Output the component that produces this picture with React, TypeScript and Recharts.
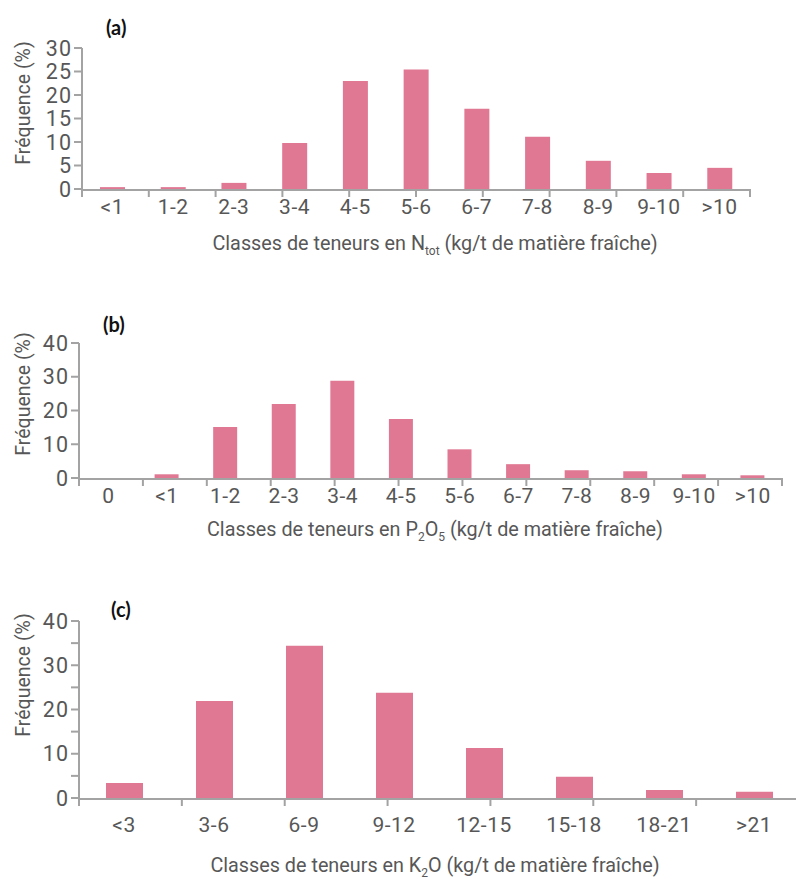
import React from 'react';
import { BarChart, Bar, XAxis, YAxis } from 'recharts';

const nClasses = ['<1', '1-2', '2-3', '3-4', '4-5', '5-6', '6-7', '7-8', '8-9', '9-10', '>10'];
const nValues = [0.4, 0.4, 1.3, 9.8, 23.0, 25.4, 17.1, 11.1, 6.0, 3.4, 4.5];
const nTicks = [0, 5, 10, 15, 20, 25, 30];
const nLabelled = [0, 5, 10, 15, 20, 25, 30];

const pClasses = ['0', '<1', '1-2', '2-3', '3-4', '4-5', '5-6', '6-7', '7-8', '8-9', '9-10', '>10'];
const pValues = [0, 1.1, 15.1, 21.9, 28.8, 17.5, 8.5, 4.1, 2.3, 2.0, 1.1, 0.8];
const pTicks = [0, 10, 20, 30, 40];
const pLabelled = [0, 10, 20, 30, 40];

const kClasses = ['<3', '3-6', '6-9', '9-12', '12-15', '15-18', '18-21', '>21'];
const kValues = [3.4, 21.9, 34.4, 23.8, 11.3, 4.8, 1.8, 1.4];
const kTicks = [0, 5, 10, 15, 20, 25, 30, 35, 40];
const kLabelled = [0, 10, 20, 30, 40];

const yTitle = 'Fréquence (%)';
const nTitle = [{ t: 'Classes de teneurs en N' }, { t: 'tot', sub: true }, { t: ' (kg/t de matière fraîche)' }];
const pTitle = [{ t: 'Classes de teneurs en P' }, { t: '2', sub: true }, { t: 'O' }, { t: '5', sub: true }, { t: ' (kg/t de matière fraîche)' }];
const kTitle = [{ t: 'Classes de teneurs en K' }, { t: '2', sub: true }, { t: 'O (kg/t de matière fraîche)' }];

const FONT = 'Roboto, "Noto Sans", sans-serif';
const TEXT = '#575757';
const AXIS = '#a3a3a3';
const BAR = '#e07893';

type Seg = { t: string; sub?: boolean };

function XTitle({ segs, y }: { segs: Seg[]; y: number }) {
  let prevSub = false;
  return (
    <text x={435} y={y} textAnchor="middle" fontSize={19.8} fill={TEXT} fontFamily={FONT} style={{ whiteSpace: 'pre' }}>
      {segs.map((s, i) => {
        const dy = s.sub && !prevSub ? 5 : !s.sub && prevSub ? -5 : 0;
        prevSub = !!s.sub;
        return (
          <tspan key={i} dy={dy} fontSize={s.sub ? 12 : 19.8}>
            {s.t}
          </tspan>
        );
      })}
    </text>
  );
}

function YTitle({ cy, letter, lx, ly }: { cy: number; letter: string; lx: number; ly: number }) {
  return (
    <g>
      <text
        x={23}
        y={cy}
        transform={`rotate(-90, 23, ${cy})`}
        textAnchor="middle"
        dominantBaseline="central"
        fontSize={19.5}
        fill={TEXT}
        fontFamily={FONT}
      >
        {yTitle}
      </text>
      <text x={lx} y={ly} dominantBaseline="central" fontSize={20} fontWeight={700} fill="#111" fontFamily='Lato, "DejaVu Sans", sans-serif'>
        {letter}
      </text>
    </g>
  );
}

type PanelProps = {
  classes: string[];
  values: number[];
  ticks: number[];
  labelled: number[];
  width: number;
  height: number;
  margin: { top: number; right: number; bottom: number; left: number };
  barSize: number;
  letter: string;
  lx: number;
  ly: number;
  yCenter: number;
  title: Seg[];
  titleY: number;
  tickMargin: number;
};

function Panel(p: PanelProps) {
  const data = p.classes.map((c, i) => ({ cls: c, v: p.values[i] }));
  const n = p.classes.length;
  const bounds = Array.from({ length: n + 1 }, (_, i) => i);
  const ymax = p.ticks[p.ticks.length - 1];
  return (
    <BarChart width={p.width} height={p.height} data={data} margin={p.margin}>
      <XAxis
        xAxisId="b"
        type="number"
        domain={[0, n]}
        ticks={bounds}
        height={1}
        tickFormatter={() => ''}
        axisLine={false}
        tickSize={8}
        tickMargin={0}
        tickLine={{ stroke: AXIS, strokeWidth: 2 }}
        allowDataOverflow
      />
      <XAxis
        xAxisId="c"
        dataKey="cls"
        type="category"
        height={40}
        interval={0}
        tickLine={false}
        tickSize={8}
        tickMargin={p.tickMargin}
        axisLine={{ stroke: AXIS, strokeWidth: 2 }}
        tick={{ fontSize: 21, fill: TEXT, fontFamily: FONT, letterSpacing: 0.5 }}
        label={() => <XTitle segs={p.title} y={p.titleY} />}
      />
      <YAxis
        width={50}
        domain={[0, ymax]}
        ticks={p.ticks}
        interval={0}
        tickSize={8}
        tickMargin={2}
        tickFormatter={(v: number) => (p.labelled.includes(v) ? String(v) : '')}
        axisLine={{ stroke: AXIS, strokeWidth: 2 }}
        tickLine={{ stroke: AXIS, strokeWidth: 2 }}
        tick={{ fontSize: 21.5, fill: TEXT, fontFamily: FONT, letterSpacing: 1 }}
        label={() => <YTitle cy={p.yCenter} letter={p.letter} lx={p.lx} ly={p.ly} />}
      />
      <Bar xAxisId="c" dataKey="v" fill={BAR} barSize={p.barSize} isAnimationActive={false} />
    </BarChart>
  );
}

export default function App() {
  return (
    <div style={{ position: 'absolute', left: 0, top: 0, width: 796, height: 879, overflow: 'hidden', background: '#fff' }}>
      <div style={{ position: 'absolute', left: 0, top: 0 }}>
        <Panel
          classes={nClasses}
          values={nValues}
          ticks={nTicks}
          labelled={nLabelled}
          width={796}
          height={260}
          margin={{ top: 48, right: 46, bottom: 30, left: 32 }}
          barSize={25}
          letter="(a)"
          lx={106}
          ly={27}
          yCenter={103}
          title={nTitle}
          titleY={250}
          tickMargin={1}
        />
      </div>
      <div style={{ position: 'absolute', left: 0, top: 290 }}>
        <Panel
          classes={pClasses}
          values={pValues}
          ticks={pTicks}
          labelled={pLabelled}
          width={796}
          height={270}
          margin={{ top: 53, right: 14, bottom: 41, left: 29 }}
          barSize={24}
          letter="(b)"
          lx={103}
          ly={34}
          yCenter={104}
          title={pTitle}
          titleY={246}
          tickMargin={1}
        />
      </div>
      <div style={{ position: 'absolute', left: 0, top: 580 }}>
        <Panel
          classes={kClasses}
          values={kValues}
          ticks={kTicks}
          labelled={kLabelled}
          width={810}
          height={299}
          margin={{ top: 41, right: 11, bottom: 40, left: 29 }}
          barSize={37}
          letter="(c)"
          lx={111}
          ly={29}
          yCenter={95}
          title={kTitle}
          titleY={292}
          tickMargin={10}
        />
      </div>
    </div>
  );
}
